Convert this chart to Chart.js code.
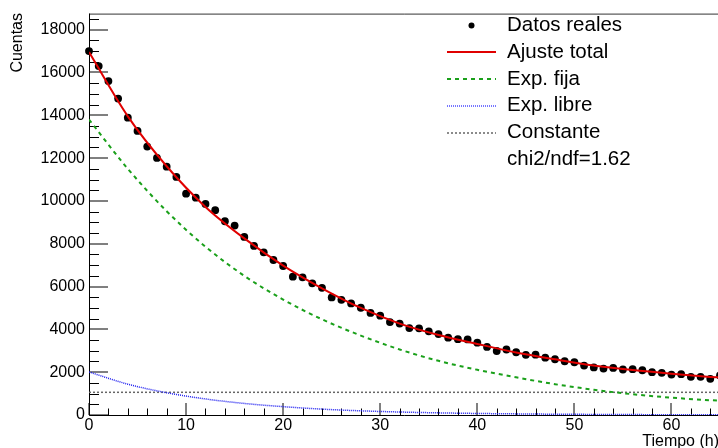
<!DOCTYPE html>
<html>
<head>
<meta charset="utf-8">
<title>Cuentas vs Tiempo</title>
<script src="https://cdn.jsdelivr.net/npm/chart.js@4.4.1/dist/chart.umd.min.js"></script>
<style>
  html, body { margin: 0; padding: 0; background: #fff; overflow: hidden; }
  canvas { display: block; }
</style>
</head>
<body>
<canvas id="decayChart" width="724" height="448"></canvas>
<script>
// measured counts, one per hour
const hours = [0, 1, 2, 3, 4, 5, 6, 7, 8, 9, 10, 11, 12, 13, 14, 15, 16, 17, 18, 19,
  20, 21, 22, 23, 24, 25, 26, 27, 28, 29, 30, 31, 32, 33, 34, 35, 36, 37, 38, 39,
  40, 41, 42, 43, 44, 45, 46, 47, 48, 49, 50, 51, 52, 53, 54, 55, 56, 57, 58, 59,
  60, 61, 62, 63, 64, 65];
const counts = [17000, 16300, 15600, 14780, 13890, 13270, 12540, 12010, 11600, 11120,
  10340, 10150, 9860, 9570, 9050, 8850, 8320, 7900, 7600, 7240,
  6960, 6460, 6430, 6150, 5940, 5490, 5380, 5210, 5010, 4770,
  4640, 4340, 4270, 4060, 4050, 3910, 3780, 3610, 3540, 3530,
  3380, 3180, 2990, 3060, 2930, 2810, 2820, 2680, 2605, 2510,
  2465, 2310, 2220, 2170, 2200, 2125, 2140, 2090, 2000, 1970,
  1890, 1905, 1785, 1785, 1690, 1850];

// fit components sampled every 4 h
const fitHours = [0, 4, 8, 12, 16, 20, 24, 28, 32, 36, 40, 44, 48, 52, 56, 60, 64, 65];
const totalFit = [16950, 13950, 11620, 9720, 8250, 6980, 5920, 5000, 4270, 3740,
  3320, 2920, 2600, 2310, 2100, 1930, 1780, 1750];
const fixedExp = [13800, 11500, 9520, 7860, 6500, 5390, 4470, 3710, 3060, 2530,
  2110, 1760, 1440, 1180, 970, 810, 690, 670];
const freeExp = [2010, 1440, 1040, 750, 540, 390, 275, 195, 140, 100,
  72, 52, 37, 27, 19, 14, 10, 9];
const constHours = [0, 65];
const constLevel = [1060, 1060];
const chiText = 'chi2/ndf=1.62';

const xTicks = [0, 10, 20, 30, 40, 50, 60];
const yTicks = [0, 2000, 4000, 6000, 8000, 10000, 12000, 14000, 16000, 18000];

const FONT = 'Liberation Sans, Arial, Helvetica, sans-serif';

function pairs(xs, ys) {
  return xs.map((x, i) => ({ x: x, y: ys[i] }));
}

// ROOT style frame: axes, inward ticks, axis titles
const rootFrame = {
  id: 'rootFrame',
  beforeDatasetsDraw(chart) {
    const ctx = chart.ctx;
    const a = chart.chartArea;
    const xs = chart.scales.x;
    const ys = chart.scales.y;
    ctx.save();
    ctx.lineWidth = 1;

    ctx.strokeStyle = '#333';
    ctx.beginPath();
    ctx.moveTo(a.left, a.top + 0.5);
    ctx.lineTo(a.right - 0.5, a.top + 0.5);
    ctx.lineTo(a.right - 0.5, a.bottom);
    ctx.stroke();

    ctx.strokeStyle = '#000';
    ctx.beginPath();
    ctx.moveTo(a.left + 0.5, a.top);
    ctx.lineTo(a.left + 0.5, a.bottom + 0.5);
    ctx.lineTo(a.right, a.bottom + 0.5);
    ctx.stroke();

    ctx.beginPath();
    for (let v = 0; v <= ys.max; v += 500) {
      const major = v % 2000 === 0;
      const py = Math.round(ys.getPixelForValue(v)) + (major ? 0 : 0.5);
      ctx.moveTo(a.left, py);
      ctx.lineTo(a.left + (major ? 19 : 10), py);
    }
    for (let t = 0; t <= xs.max; t += 2) {
      const major = t % 10 === 0;
      const px = Math.round(xs.getPixelForValue(t)) + (major ? 0 : 0.5);
      ctx.moveTo(px, a.bottom);
      ctx.lineTo(px, a.bottom - (major ? 12 : 6.5));
    }
    ctx.stroke();

    ctx.fillStyle = '#000';
    ctx.font = '16px ' + FONT;
    ctx.textAlign = 'right';
    ctx.textBaseline = 'alphabetic';
    ctx.fillText('Tiempo (h)', 719, 446);

    ctx.translate(17.5, 13);
    ctx.rotate(-Math.PI / 2);
    ctx.textBaseline = 'middle';
    ctx.fillText('Cuentas', 0, 0);
    ctx.restore();
  }
};

// legend box in the upper right, one row per dataset plus the chi2 line
const rootLegend = {
  id: 'rootLegend',
  afterDraw(chart) {
    const ctx = chart.ctx;
    const rowY = 25.5, rowStep = 26.75;
    const lineL = 447, lineR = 496, textX = 507;
    ctx.save();
    ctx.font = '20.5px ' + FONT;
    ctx.textBaseline = 'middle';
    ctx.textAlign = 'left';
    chart.data.datasets.forEach((ds, i) => {
      const y = rowY + i * rowStep;
      if (ds.showLine === false) {
        ctx.fillStyle = ds.pointBackgroundColor;
        ctx.beginPath();
        ctx.arc((lineL + lineR) / 2, y, 3, 0, Math.PI * 2);
        ctx.fill();
      } else {
        ctx.strokeStyle = ds.legendColor || ds.borderColor;
        ctx.lineWidth = ds.borderWidth;
        ctx.setLineDash(ds.borderDash || []);
        ctx.beginPath();
        ctx.moveTo(lineL, Math.round(y));
        ctx.lineTo(lineR, Math.round(y));
        ctx.stroke();
        ctx.setLineDash([]);
      }
      ctx.fillStyle = '#000';
      ctx.fillText(ds.label, textX, y);
    });
    ctx.fillText(chiText, textX, rowY + chart.data.datasets.length * rowStep);
    ctx.restore();
  }
};

const tickFont = { family: FONT, size: 16 };

new Chart(document.getElementById('decayChart'), {
  type: 'line',
  data: {
    datasets: [
      {
        label: 'Datos reales',
        data: pairs(hours, counts),
        showLine: false,
        pointRadius: 3.9,
        pointBackgroundColor: '#000',
        pointBorderWidth: 0,
        clip: false,
        order: 2
      },
      {
        label: 'Ajuste total',
        data: pairs(fitHours, totalFit),
        borderColor: '#e00000',
        borderWidth: 2,
        cubicInterpolationMode: 'monotone',
        pointRadius: 0,
        order: 1
      },
      {
        label: 'Exp. fija',
        data: pairs(fitHours, fixedExp),
        borderColor: '#1aa01a',
        borderWidth: 2,
        borderDash: [4, 4],
        cubicInterpolationMode: 'monotone',
        pointRadius: 0,
        order: 3
      },
      {
        label: 'Exp. libre',
        data: pairs(fitHours, freeExp),
        borderColor: '#2020f0',
        legendColor: '#4a4aff',
        borderWidth: 1.5,
        borderDash: [1, 1],
        cubicInterpolationMode: 'monotone',
        pointRadius: 0,
        order: 3
      },
      {
        label: 'Constante',
        data: pairs(constHours, constLevel),
        borderColor: '#666',
        borderWidth: 1.5,
        borderDash: [2, 2],
        pointRadius: 0,
        order: 3
      }
    ]
  },
  options: {
    responsive: false,
    animation: false,
    layout: { padding: { top: 12, right: 3, left: 0, bottom: 0 } },
    plugins: { legend: { display: false }, tooltip: { enabled: false } },
    scales: {
      x: {
        type: 'linear',
        min: 0,
        max: 65,
        grid: { display: false, drawTicks: false },
        border: { display: false },
        afterBuildTicks: s => { s.ticks = xTicks.map(v => ({ value: v })); },
        afterFit: s => { s.height = 33; },
        ticks: { font: tickFont, color: '#000', padding: 1, maxRotation: 0, autoSkip: false,
          callback: v => String(v) }
      },
      y: {
        type: 'linear',
        min: 0,
        max: 18750,
        grid: { display: false, drawTicks: false },
        border: { display: false },
        afterBuildTicks: s => { s.ticks = yTicks.map(v => ({ value: v })); },
        afterFit: s => { s.width = 89; },
        ticks: { font: tickFont, color: '#000', padding: 4, autoSkip: false,
          callback: v => String(v) }
      }
    }
  },
  plugins: [rootFrame, rootLegend]
});
</script>
</body>
</html>
